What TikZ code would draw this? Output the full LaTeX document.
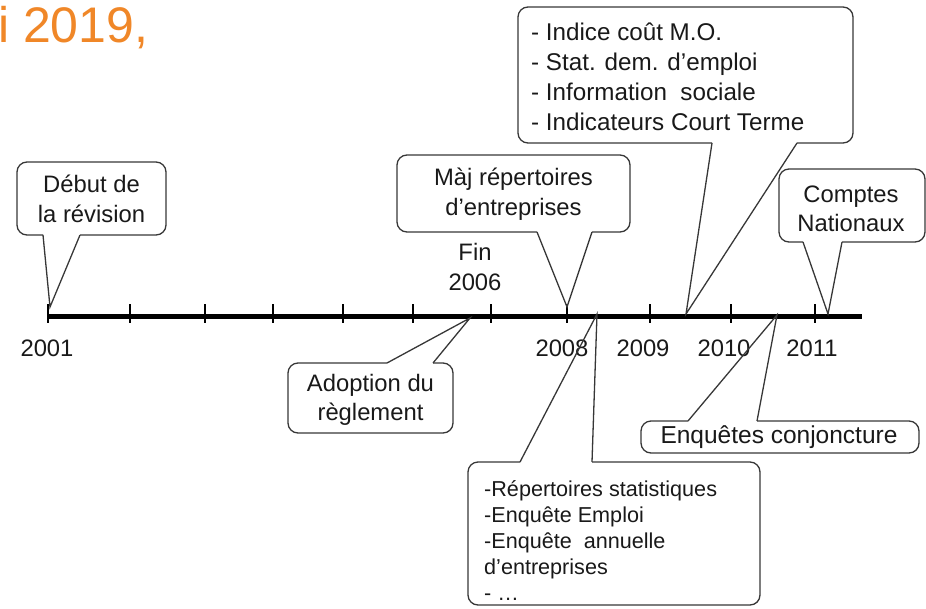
\documentclass[tikz,border=0pt]{standalone}
\usepackage{fontspec}
\setmainfont{Liberation Sans}
\definecolor{orng}{RGB}{240,135,40}
\definecolor{edge}{RGB}{55,55,55}
\definecolor{ink}{RGB}{25,25,25}
\newcommand\calloutDown[7]{% L T R B b1 b2 tip
  \draw[boxline] (#6,#4) -- (#3,#4) -- (#3,#2) -- (#1,#2) -- (#1,#4) -- (#5,#4);
  \draw[ptr] (#5,#4) -- (#7) -- (#6,#4);}
\newcommand\calloutUp[7]{% L T R B b1 b2 tip
  \draw[boxline] (#6,#2) -- (#3,#2) -- (#3,#4) -- (#1,#4) -- (#1,#2) -- (#5,#2);
  \draw[ptr] (#5,#2) -- (#7) -- (#6,#2);}
\begin{document}
\begin{tikzpicture}[x=1pt,y=-1pt,
  boxline/.style={draw=edge, line width=1.3pt, rounded corners=10pt},
  ptr/.style={draw=edge, line width=1.3pt, line join=miter},
  tickmark/.style={draw=black, line width=1.3pt},
  lbl/.style={font=\fontsize{23.8}{29.5}\selectfont, text=ink, inner sep=0pt, align=center},
  lstl/.style={font=\fontsize{24.2}{30}\selectfont, text=ink, inner sep=0pt, align=left, anchor=west},
  lsts/.style={font=\fontsize{21.6}{26}\selectfont, text=ink, inner sep=0pt, align=left, anchor=west}]
\useasboundingbox (0,0) rectangle (926,608);

% title fragment
\node[anchor=base west, text=orng, font=\fontsize{50}{60}\selectfont, inner sep=0pt] (ttl) at (-2,42) {i 2019,};

% timeline
\coordinate (tl0) at (48,316);
\coordinate (tl1) at (862,316);
\draw[line width=5pt] (tl0) -- (tl1);
\foreach \x in {48,130,205,273,343,413,491,567,650,731,815}
  \draw[tickmark] (\x,304) -- (\x,323);

% year labels
\node[lbl] (y2001) at (47,348) {2001};
\node[lbl] (y2008) at (562,348) {2008};
\node[lbl] (y2009) at (643,348) {2009};
\node[lbl] (y2010) at (724,348) {2010};
\node[lbl] (y2011) at (812,348) {2011};
\node[lbl] (fin) at (475,267) {Fin\\2006};

% pointer tips
\coordinate (tDebut) at (50,307);
\coordinate (tMaj) at (567,307);
\coordinate (tInd) at (686,314);
\coordinate (tCN) at (828,314);
\coordinate (tAdo) at (470,318);
\coordinate (tEnq) at (777,315);
\coordinate (tRep) at (597,314);

% callouts
\calloutDown{17}{162}{166}{235}{43}{80}{tDebut}
\node[lbl] (debut) at (91.5,199) {Début de\\la révision};

\calloutDown{397}{155}{630}{232}{537}{592}{tMaj}
\node[lbl] (maj) at (513.5,194) {Màj répertoires\\d’entreprises};

\calloutDown{518}{7}{853}{143}{712}{797}{tInd}
\node[lstl] (ind) at (531,77) {- Indice coût M.O.\\- Stat. dem. d’emploi\\- Information\ \ sociale\\- Indicateurs Court Terme};

\calloutDown{779}{169}{925}{242}{803}{842}{tCN}
\node[lbl] (cn) at (851,209) {Comptes\\Nationaux};

\calloutUp{288}{363}{453}{433}{387}{433}{tAdo}
\node[lbl] (ado) at (370.5,400) {Adoption du\\règlement};

\calloutUp{641}{421}{919}{453}{688}{757}{tEnq}
\node[lbl, font=\fontsize{24.5}{29.5}\selectfont] (enq) at (779,437) {Enquêtes conjoncture};

\calloutUp{468}{462}{760}{605}{520}{592}{tRep}
\node[lsts] (rep) at (484,541) {-Répertoires statistiques\\-Enquête Emploi\\-Enquête\ \ annuelle\\d’entreprises\\- …};
\end{tikzpicture}
\end{document}
